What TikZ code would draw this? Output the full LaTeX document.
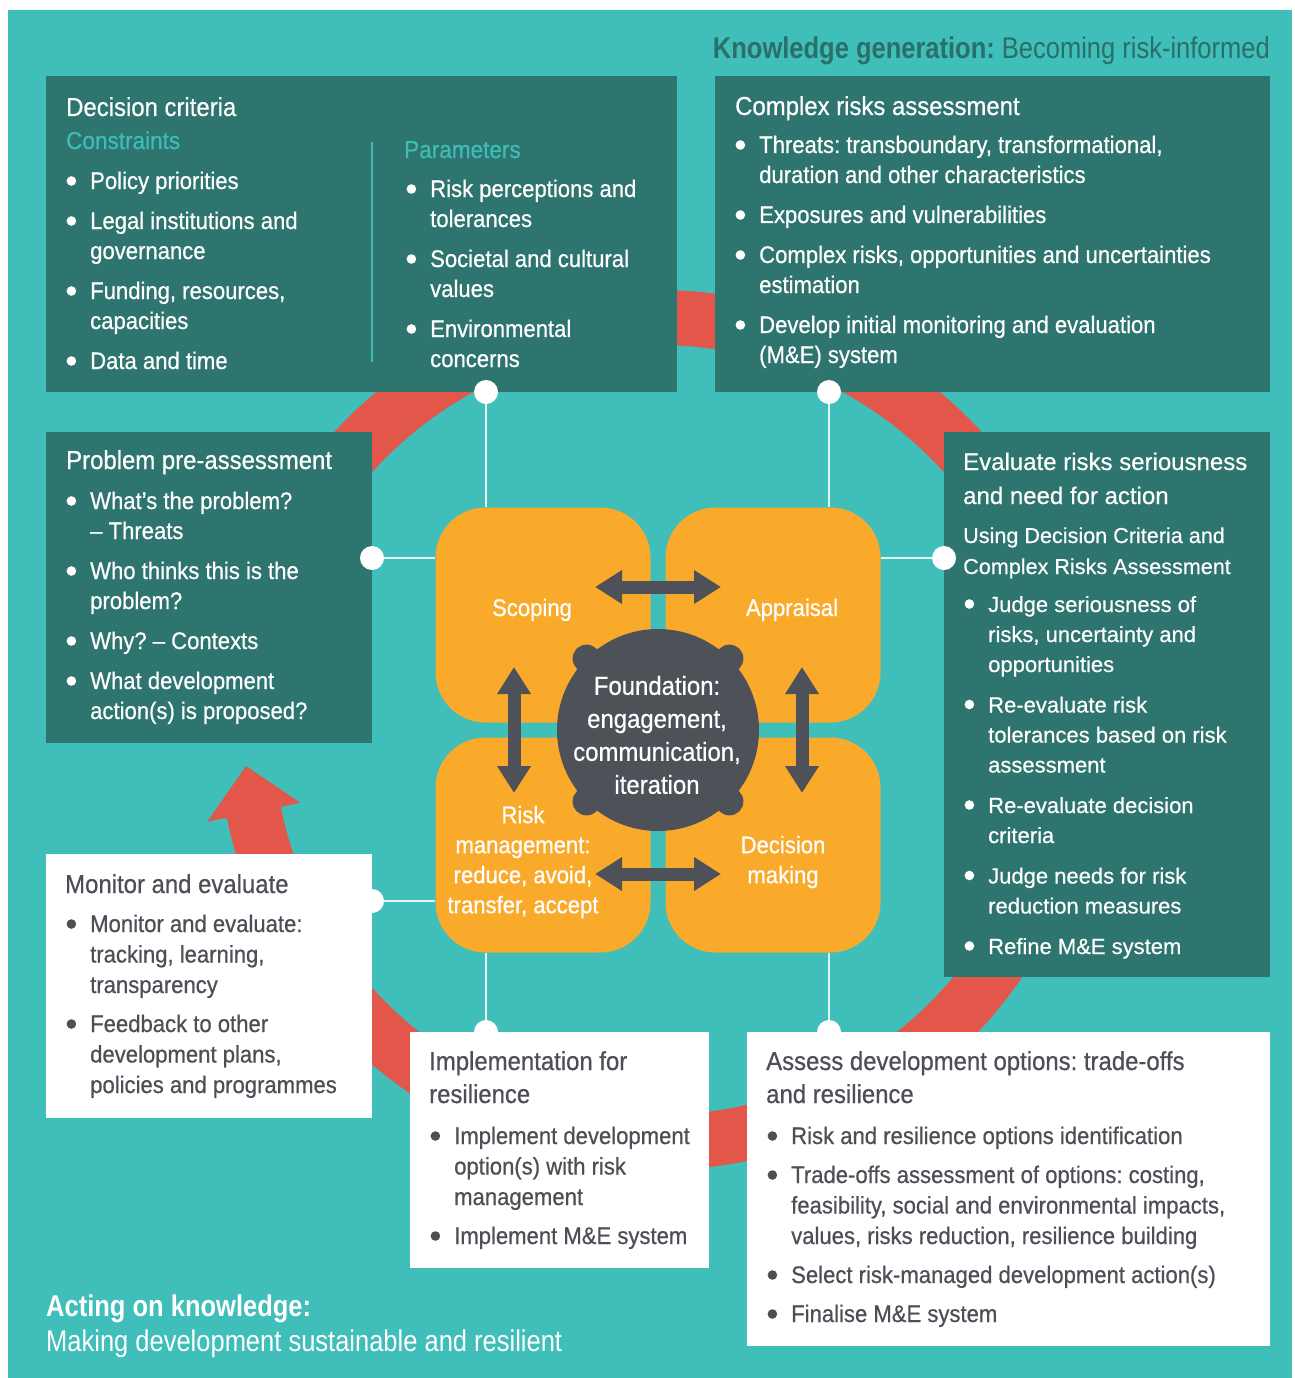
\documentclass[tikz,border=0pt]{standalone}
\usepackage{fontspec}
\setmainfont[FakeStretch=0.92, UprightFeatures={FakeBold=0.6}]{Liberation Sans}
\newfontfamily\hdfont[FakeStretch=0.85]{Liberation Sans}
\newfontfamily\evfont[UprightFeatures={FakeBold=0.5}]{Liberation Sans}
\usetikzlibrary{arrows.meta}
\frenchspacing
\definecolor{bgteal}{HTML}{3FBEBA}
\definecolor{dkteal}{HTML}{2E746F}
\definecolor{ringred}{HTML}{E3574A}
\definecolor{orng}{HTML}{FAAA2B}
\definecolor{dkgray}{HTML}{4F5159}
\definecolor{txtgray}{HTML}{4D4F57}
\definecolor{cyantxt}{HTML}{3DBDB5}
\definecolor{hdteal}{HTML}{2B6F6A}
\colorlet{bulc}{white}
\newcommand\bul{\leavevmode\llap{\tikz[baseline=0pt]\fill[bulc] (0pt,8pt) circle[radius=4.8pt];\hspace{14pt}}}
\newcommand\tb[1]{\begin{minipage}[t]{600pt}\frenchspacing#1\end{minipage}}
\tikzset{
  dkbox/.style={fill=dkteal, draw=none, inner sep=0pt, outer sep=0pt},
  whbox/.style={fill=white, draw=none, inner sep=0pt, outer sep=0pt},
  obox/.style={fill=orng, draw=none, rounded corners=50pt, minimum width=215pt, minimum height=215pt, inner sep=0pt},
  ttlw/.style={inner sep=0pt, text=white, font=\fontsize{26}{33}\selectfont},
  ttlg/.style={inner sep=0pt, text=txtgray, font=\fontsize{26}{33}\selectfont},
  subc/.style={inner sep=0pt, text=cyantxt, font=\fontsize{24.5}{30}\selectfont},
  bodyw/.style={inner sep=0pt, text=white, font=\colorlet{bulc}{white}\fontsize{24}{30}\selectfont},
  bodyg/.style={inner sep=0pt, text=txtgray, font=\colorlet{bulc}{txtgray}\fontsize{24}{30.5}\selectfont},
  otxt/.style={inner sep=0pt, text=white, font=\fontsize{24}{30}\selectfont},
  ftxt/.style={inner sep=0pt, text=white, font=\fontsize{26}{33}\selectfont},
  conn/.style={draw=white, draw opacity=0.85, line width=2pt},
  dot/.style={fill=white},
  dbl/.style={draw=dkgray, line width=13pt, {Triangle[length=27pt,width=32pt]}-{Triangle[length=27pt,width=32pt]}},
  ring/.style={draw=ringred, line width=55pt},
}
\begin{document}
\begin{tikzpicture}[x=1pt,y=-1pt]
\useasboundingbox (0,0) rectangle (1294,1378);
\fill[white] (0,0) rectangle (1294,1378);
\fill[bgteal] (8,10) rectangle (1292,1378);

% red cycle ring with arrowhead
\coordinate (C) at (658,730);
\draw[ring] (C) ++(180:412.5) arc[start angle=180, end angle=530, radius=412.5];
\fill[ringred] ([shift={(175:413.6)}]C) -- ([shift={(168.5:365)}]C) -- ([shift={(168.5:460)}]C) -- cycle;

% header & footer
\node[anchor=base east, inner sep=0pt, text=hdteal, font=\hdfont\fontsize{30}{36}\selectfont] (hdr) at (1270,59) {\textbf{Knowledge generation:} Becoming risk-informed};
\node[anchor=base west, inner sep=0pt, text=white, font=\hdfont\fontsize{30}{36}\selectfont] (ft1) at (46,1316) {\textbf{Acting on knowledge:}};
\node[anchor=base west, inner sep=0pt, text=white, font=\hdfont\fontsize{30}{36}\selectfont] (ft2) at (46,1351) {Making development sustainable and resilient};

% boxes
\node[dkbox, minimum width=631pt, minimum height=316pt] (dc) at (361.5,234) {};
\node[dkbox, minimum width=555pt, minimum height=316pt] (cr) at (992.5,234) {};
\node[dkbox, minimum width=326pt, minimum height=311pt] (pp) at (209,587.5) {};
\node[dkbox, minimum width=326pt, minimum height=545pt] (ev) at (1107,704.5) {};
\node[whbox, minimum width=326pt, minimum height=264pt] (mo) at (209,986) {};
\node[whbox, minimum width=299pt, minimum height=236pt] (im) at (559.5,1150) {};
\node[whbox, minimum width=523pt, minimum height=314pt] (as) at (1008.5,1189) {};

% orange quadrants
\node[obox] (scop) at (543,615) {};
\node[obox] (appr) at (773,615) {};
\node[obox] (rman) at (543,845) {};
\node[obox] (dmak) at (773,845) {};

% connectors
\coordinate (d1) at (486,392);
\coordinate (d2) at (829,392);
\coordinate (d3) at (372,558);
\coordinate (d4) at (944,558);
\coordinate (d5) at (372,901);
\coordinate (d6) at (486,1032);
\coordinate (d7) at (829,1032);
\draw[conn] (d1) -- (d1 |- scop.north);
\draw[conn] (d2) -- (d2 |- appr.north);
\draw[conn] (d3) -- (d3 -| scop.west);
\draw[conn] (d4) -- (d4 -| appr.east);
\draw[conn] (d5) -- (d5 -| rman.west);
\draw[conn] (d6) -- (d6 |- rman.south);
\draw[conn] (d7) -- (d7 |- dmak.south);
\foreach \p in {d1,d2,d3,d4,d5,d6,d7} \fill[dot] (\p) circle[radius=12pt];

% central foundation
\fill[dkgray] (C) circle[radius=101pt];
\foreach \a in {45,135,225,315} \fill[dkgray] ([shift={(\a:101)}]C) circle[radius=14pt];

% double arrows
\coordinate (h1a) at (595,587); \coordinate (h1b) at (721,587);
\coordinate (h2a) at (595,874); \coordinate (h2b) at (721,874);
\coordinate (v1a) at (514,667); \coordinate (v1b) at (514,793);
\coordinate (v2a) at (802,667); \coordinate (v2b) at (802,793);
\draw[dbl] (h1a) -- (h1b);
\draw[dbl] (h2a) -- (h2b);
\draw[dbl] (v1a) -- (v1b);
\draw[dbl] (v2a) -- (v2b);

% quadrant texts
\node[otxt, anchor=base] (scopt) at (532,616) {Scoping};
\node[otxt, anchor=base] (apprt) at (792,616) {Appraisal};
\node[otxt, align=center] (rmant) at (523,862) {Risk\\management:\\reduce, avoid,\\transfer, accept};
\node[otxt, align=center] (dmakt) at (783,862) {Decision\\making};
\node[ftxt, align=center] (fndt) at (657,735) {Foundation:\\engagement,\\communication,\\iteration};

% Decision criteria
\node[ttlw, anchor=base west] (dct) at (66,116) {Decision criteria};
\node[subc, anchor=base west] (dcc) at (66,149) {Constraints};
\node[subc, anchor=base west] (dcp) at (404,158) {Parameters};
\draw[cyantxt, line width=1.5pt] (372,142) -- (372,362);
\node[bodyw, anchor=base west] (dcb1) at (90,189) {\tb{\bul Policy priorities\\[10pt]\bul Legal institutions and\\governance\\[10pt]\bul Funding, resources,\\capacities\\[10pt]\bul Data and time}};
\node[bodyw, anchor=base west] (dcb2) at (430,197) {\tb{\bul Risk perceptions and\\tolerances\\[10pt]\bul Societal and cultural\\values\\[10pt]\bul Environmental\\concerns}};

% Complex risks assessment
\node[ttlw, anchor=base west] (crt) at (735,115) {Complex risks assessment};
\node[bodyw, anchor=base west] (crb) at (759,153) {\tb{\bul Threats: transboundary, transformational,\\duration and other characteristics\\[10pt]\bul Exposures and vulnerabilities\\[10pt]\bul Complex risks, opportunities and uncertainties\\estimation\\[10pt]\bul Develop initial monitoring and evaluation\\(M\&E) system}};

% Problem pre-assessment
\node[ttlw, anchor=base west] (ppt) at (66,469) {Problem pre-assessment};
\node[bodyw, anchor=base west] (ppb) at (90,509) {\tb{\bul What’s the problem?\\– Threats\\[10pt]\bul Who thinks this is the\\problem?\\[10pt]\bul Why? – Contexts\\[10pt]\bul What development\\action(s) is proposed?}};

% Evaluate
\node[inner sep=0pt, text=white, font=\evfont\fontsize{24}{34}\selectfont, anchor=base west] (evt) at (963,470) {\tb{Evaluate risks seriousness\\and need for action}};
\node[inner sep=0pt, text=white, font=\evfont\fontsize{21.6}{31}\selectfont, anchor=base west] (evs) at (963,543) {\tb{Using Decision Criteria and\\Complex Risks Assessment}};
\node[inner sep=0pt, text=white, font=\colorlet{bulc}{white}\evfont\fontsize{22}{30}\selectfont, anchor=base west] (evb) at (988,612) {\tb{\bul Judge seriousness of\\risks, uncertainty and\\opportunities\\[10.5pt]\bul Re-evaluate risk\\tolerances based on risk\\assessment\\[10.5pt]\bul Re-evaluate decision\\criteria\\[10.5pt]\bul Judge needs for risk\\reduction measures\\[10.5pt]\bul Refine M\&E system}};

% Monitor and evaluate
\node[ttlg, anchor=base west] (mot) at (65,893) {Monitor and evaluate};
\node[bodyg, anchor=base west] (mob) at (90,932) {\tb{\bul Monitor and evaluate:\\tracking, learning,\\transparency\\[8.5pt]\bul Feedback to other\\development plans,\\policies and programmes}};

% Implementation
\node[ttlg, anchor=base west] (imt) at (429,1070) {\tb{Implementation for\\resilience}};
\node[bodyg, anchor=base west] (imb) at (454,1144) {\tb{\bul Implement development\\option(s) with risk\\management\\[8.5pt]\bul Implement M\&E system}};

% Assess
\node[ttlg, anchor=base west] (ast) at (766,1070) {\tb{Assess development options: trade-offs\\and resilience}};
\node[bodyg, anchor=base west] (asb) at (791,1144) {\tb{\bul Risk and resilience options identification\\[8.5pt]\bul Trade-offs assessment of options: costing,\\feasibility, social and environmental impacts,\\values, risks reduction, resilience building\\[8.5pt]\bul Select risk-managed development action(s)\\[8.5pt]\bul Finalise M\&E system}};
\end{tikzpicture}
\end{document}
